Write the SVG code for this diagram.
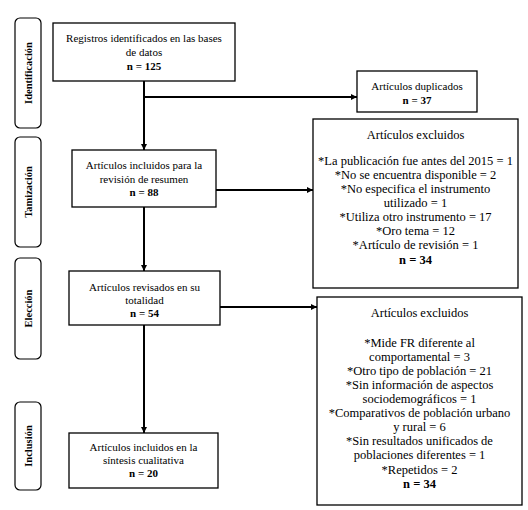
<svg xmlns="http://www.w3.org/2000/svg" width="528" height="510" viewBox="0 0 528 510">
<defs>
<style>
.box{fill:#fff;stroke:#000;stroke-width:1.3}
.side{fill:#fff;stroke:#000;stroke-width:1.2}
text{font-family:"Liberation Serif",Tinos,"Times New Roman",Times,"DejaVu Serif",serif;fill:#000;text-anchor:middle}
.t{font-size:11px}
.e{font-size:12.5px}
.b{font-weight:bold}
.s{font-size:10.5px;font-weight:bold}
.c{stroke:#000;stroke-width:2;fill:none}
</style>
<marker id="ah" viewBox="0 0 6 6" refX="6" refY="3" markerWidth="3" markerHeight="3" orient="auto" markerUnits="strokeWidth">
<path d="M0,0 L6,3 L0,6 Z" fill="#000"/>
</marker>
</defs>
<rect width="528" height="510" fill="#fff"/>
<g id="side-identificacion"><rect class="side" x="15" y="18" width="26" height="110" rx="5"/><text class="s" transform="translate(31.5,73) rotate(-90)">Identificación</text></g>
<g id="side-tamizacion"><rect class="side" x="15" y="137" width="26" height="110" rx="5"/><text class="s" transform="translate(31.5,192) rotate(-90)">Tamización</text></g>
<g id="side-eleccion"><rect class="side" x="15" y="258" width="26" height="101" rx="5"/><text class="s" transform="translate(31.5,308.5) rotate(-90)">Elección</text></g>
<g id="side-inclusion"><rect class="side" x="15" y="402" width="26" height="88" rx="5"/><text class="s" transform="translate(31.5,446) rotate(-90)">Inclusión</text></g>
<g id="connectors">
<line class="c" x1="144" y1="81" x2="144" y2="150" marker-end="url(#ah)"/>
<line class="c" x1="144" y1="97" x2="357" y2="97" marker-end="url(#ah)"/>
<line class="c" x1="216" y1="190" x2="313" y2="190" marker-end="url(#ah)"/>
<line class="c" x1="144" y1="207" x2="144" y2="271" marker-end="url(#ah)"/>
<line class="c" x1="220" y1="307" x2="317" y2="307" marker-end="url(#ah)"/>
<line class="c" x1="144" y1="325" x2="144" y2="433" marker-end="url(#ah)"/>
</g>
<g id="registros"><rect class="box" x="53" y="23" width="182" height="58"/>
<text class="t" x="144" y="42">Registros identificados en las bases</text>
<text class="t" x="144" y="56">de datos</text>
<text class="t b" x="144" y="70">n = 125</text></g>
<g id="duplicados"><rect class="box" x="357" y="71" width="120" height="41"/>
<text class="t" x="417" y="90">Artículos duplicados</text>
<text class="t b" x="417" y="104">n = 37</text></g>
<g id="incluidos-resumen"><rect class="box" x="72" y="150" width="144" height="57"/>
<text class="t" x="144" y="169">Artículos incluidos para la</text>
<text class="t" x="144" y="183">revisión de resumen</text>
<text class="t b" x="144" y="196">n = 88</text></g>
<g id="excluidos-1"><rect class="box" x="313" y="119" width="205" height="169"/>
<text class="e" x="415.5" y="139">Artículos excluidos</text>
<text class="e" x="415.5" y="165">*La publicación fue antes del 2015 = 1</text>
<text class="e" x="415.5" y="179">*No se encuentra disponible = 2</text>
<text class="e" x="415.5" y="193">*No especifica el instrumento</text>
<text class="e" x="415.5" y="207">utilizado = 1</text>
<text class="e" x="415.5" y="221">*Utiliza otro instrumento = 17</text>
<text class="e" x="415.5" y="235">*Oro tema = 12</text>
<text class="e" x="415.5" y="249">*Artículo de revisión = 1</text>
<text class="e b" x="415.5" y="264">n = 34</text></g>
<g id="revisados"><rect class="box" x="69" y="271" width="151" height="54"/>
<text class="t" x="144.5" y="291">Artículos revisados en su</text>
<text class="t" x="144.5" y="304">totalidad</text>
<text class="t b" x="144.5" y="317">n = 54</text></g>
<g id="excluidos-2"><rect class="box" x="317" y="297" width="205" height="208"/>
<text class="e" x="419.5" y="317">Artículos excluidos</text>
<text class="e" x="419.5" y="347">*Mide FR diferente al</text>
<text class="e" x="419.5" y="361">comportamental = 3</text>
<text class="e" x="419.5" y="375">*Otro tipo de población = 21</text>
<text class="e" x="419.5" y="389">*Sin información de aspectos</text>
<text class="e" x="419.5" y="403">sociodemográficos = 1</text>
<text class="e" x="419.5" y="417">*Comparativos de población urbano</text>
<text class="e" x="419.5" y="431">y rural = 6</text>
<text class="e" x="419.5" y="445">*Sin resultados unificados de</text>
<text class="e" x="419.5" y="459">poblaciones diferentes = 1</text>
<text class="e" x="419.5" y="474">*Repetidos = 2</text>
<text class="e b" x="419.5" y="488">n = 34</text></g>
<g id="sintesis"><rect class="box" x="69" y="433" width="149" height="55"/>
<text class="t" x="143.5" y="451">Artículos incluidos en la</text>
<text class="t" x="143.5" y="464">síntesis cualitativa</text>
<text class="t b" x="143.5" y="477">n = 20</text></g>
</svg>
